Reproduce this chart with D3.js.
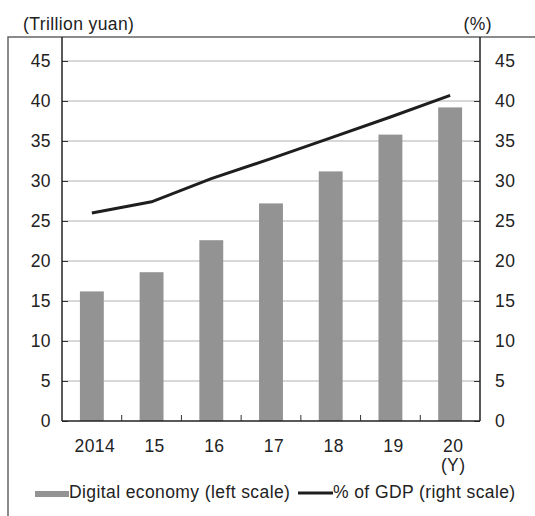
<!DOCTYPE html>
<html>
<head>
<meta charset="utf-8">
<script src="https://cdn.jsdelivr.net/npm/d3@7"></script>
<style>
  html, body { margin: 0; padding: 0; background: #fff; }
  svg { display: block; }
  text { font-family: "Liberation Sans", Arial, sans-serif; fill: #222; }
</style>
</head>
<body>
<svg id="chart" width="535" height="516"></svg>
<script>
// Chinese digital economy: size (trillion yuan) and share of GDP (%)
const years = ["2014", "15", "16", "17", "18", "19", "20"];
const digitalEconomy = [16.2, 18.6, 22.6, 27.2, 31.2, 35.8, 39.2];
const shareOfGDP = [26.0, 27.4, 30.3, 32.8, 35.4, 38.0, 40.7];
const leftTicks = [0, 5, 10, 15, 20, 25, 30, 35, 40, 45];
const rightTicks = [0, 5, 10, 15, 20, 25, 30, 35, 40, 45];

const svg = d3.select("#chart");
const plot = { left: 62, right: 480, top: 37, bottom: 421 };
const fontSize = 17.5;
const spacing = 0.4;

const x = d3.scaleBand()
  .domain(years)
  .range([plot.left, plot.right])
  .paddingInner(0.6)
  .paddingOuter(0.3);
const step = x.step();
const yL = d3.scaleLinear().domain([0, 45]).range([plot.bottom, 61]);
const yR = d3.scaleLinear().domain([0, 45]).range([plot.bottom, 61]);

// outer frame (left and top edges)
svg.append("path")
  .attr("d", `M8,516V${plot.top}H535`)
  .attr("fill", "none")
  .attr("stroke", "#666")
  .attr("stroke-width", 1.5);

// horizontal gridlines
svg.append("g")
  .selectAll("line")
  .data(leftTicks.filter(d => d > 0))
  .join("line")
  .attr("x1", plot.left).attr("x2", plot.right)
  .attr("y1", d => yL(d)).attr("y2", d => yL(d))
  .attr("stroke", "#b0b0b0")
  .attr("stroke-width", 1);

// bars
svg.append("g")
  .selectAll("rect")
  .data(years.map((y, i) => ({ y, v: digitalEconomy[i] })))
  .join("rect")
  .attr("x", d => x(d.y))
  .attr("width", x.bandwidth())
  .attr("y", d => yL(d.v))
  .attr("height", d => yL(0) - yL(d.v))
  .attr("fill", "#939393");

// share-of-GDP line
const line = d3.line()
  .x((d, i) => x(years[i]) + x.bandwidth() / 2)
  .y(d => yR(d));
svg.append("path")
  .datum(shareOfGDP)
  .attr("d", line)
  .attr("fill", "none")
  .attr("stroke", "#1e1e1e")
  .attr("stroke-width", 3);

function styleTickText(sel) {
  sel.attr("font-size", fontSize).attr("letter-spacing", spacing)
    .style("font-family", "'Liberation Sans', Arial, sans-serif").attr("fill", "#222");
}

// left axis
const leftAxis = svg.append("g")
  .attr("transform", `translate(${plot.left},0)`)
  .call(d3.axisLeft(yL).tickValues(leftTicks).tickSize(-6).tickPadding(11));
leftAxis.select(".domain").remove();
leftAxis.selectAll(".tick line").attr("stroke", "#333");
leftAxis.selectAll(".tick text").call(styleTickText);
svg.append("line")
  .attr("x1", plot.left).attr("x2", plot.left)
  .attr("y1", plot.top).attr("y2", plot.bottom)
  .attr("stroke", "#222").attr("stroke-width", 1.5);

// right axis
const rightAxis = svg.append("g")
  .attr("transform", `translate(${plot.right},0)`)
  .call(d3.axisRight(yR).tickValues(rightTicks).tickSize(-6).tickPadding(15));
rightAxis.select(".domain").remove();
rightAxis.selectAll(".tick line").attr("stroke", "#333");
rightAxis.selectAll(".tick text").call(styleTickText);
svg.append("line")
  .attr("x1", plot.right).attr("x2", plot.right)
  .attr("y1", plot.top).attr("y2", plot.bottom)
  .attr("stroke", "#222").attr("stroke-width", 1.5);

// bottom axis with ticks between categories
svg.append("line")
  .attr("x1", plot.left).attr("x2", plot.right)
  .attr("y1", plot.bottom).attr("y2", plot.bottom)
  .attr("stroke", "#222").attr("stroke-width", 1.5);
svg.append("g")
  .selectAll("line")
  .data(years.slice(1))
  .join("line")
  .attr("x1", d => x(d) - step * 0.3).attr("x2", d => x(d) - step * 0.3)
  .attr("y1", plot.bottom).attr("y2", plot.bottom - 6)
  .attr("stroke", "#333");
svg.append("g")
  .selectAll("text")
  .data(years)
  .join("text")
  .attr("x", d => x(d) + x.bandwidth() / 2 + 3)
  .attr("y", 452)
  .attr("text-anchor", "middle")
  .attr("font-size", fontSize).attr("letter-spacing", spacing)
  .text(d => d);
svg.append("text")
  .attr("x", x(years[years.length - 1]) + x.bandwidth() / 2 + 3)
  .attr("y", 471)
  .attr("text-anchor", "middle")
  .attr("font-size", fontSize).attr("letter-spacing", spacing)
  .text("(Y)");

// unit labels
svg.append("text")
  .attr("x", 23).attr("y", 30)
  .attr("font-size", fontSize).attr("letter-spacing", spacing)
  .text("(Trillion yuan)");
svg.append("text")
  .attr("x", 492).attr("y", 30)
  .attr("text-anchor", "end")
  .attr("font-size", fontSize).attr("letter-spacing", spacing)
  .text("(%)");

// legend
const legend = svg.append("g");
legend.append("rect")
  .attr("x", 35).attr("y", 491).attr("width", 34).attr("height", 6)
  .attr("fill", "#939393");
legend.append("text")
  .attr("x", 69).attr("y", 498)
  .attr("font-size", fontSize).attr("letter-spacing", spacing)
  .text("Digital economy (left scale)");
legend.append("line")
  .attr("x1", 298).attr("x2", 333).attr("y1", 493).attr("y2", 493)
  .attr("stroke", "#1e1e1e").attr("stroke-width", 3);
legend.append("text")
  .attr("x", 333).attr("y", 498)
  .attr("font-size", fontSize).attr("letter-spacing", spacing)
  .text("% of GDP (right scale)");
</script>
</body>
</html>
